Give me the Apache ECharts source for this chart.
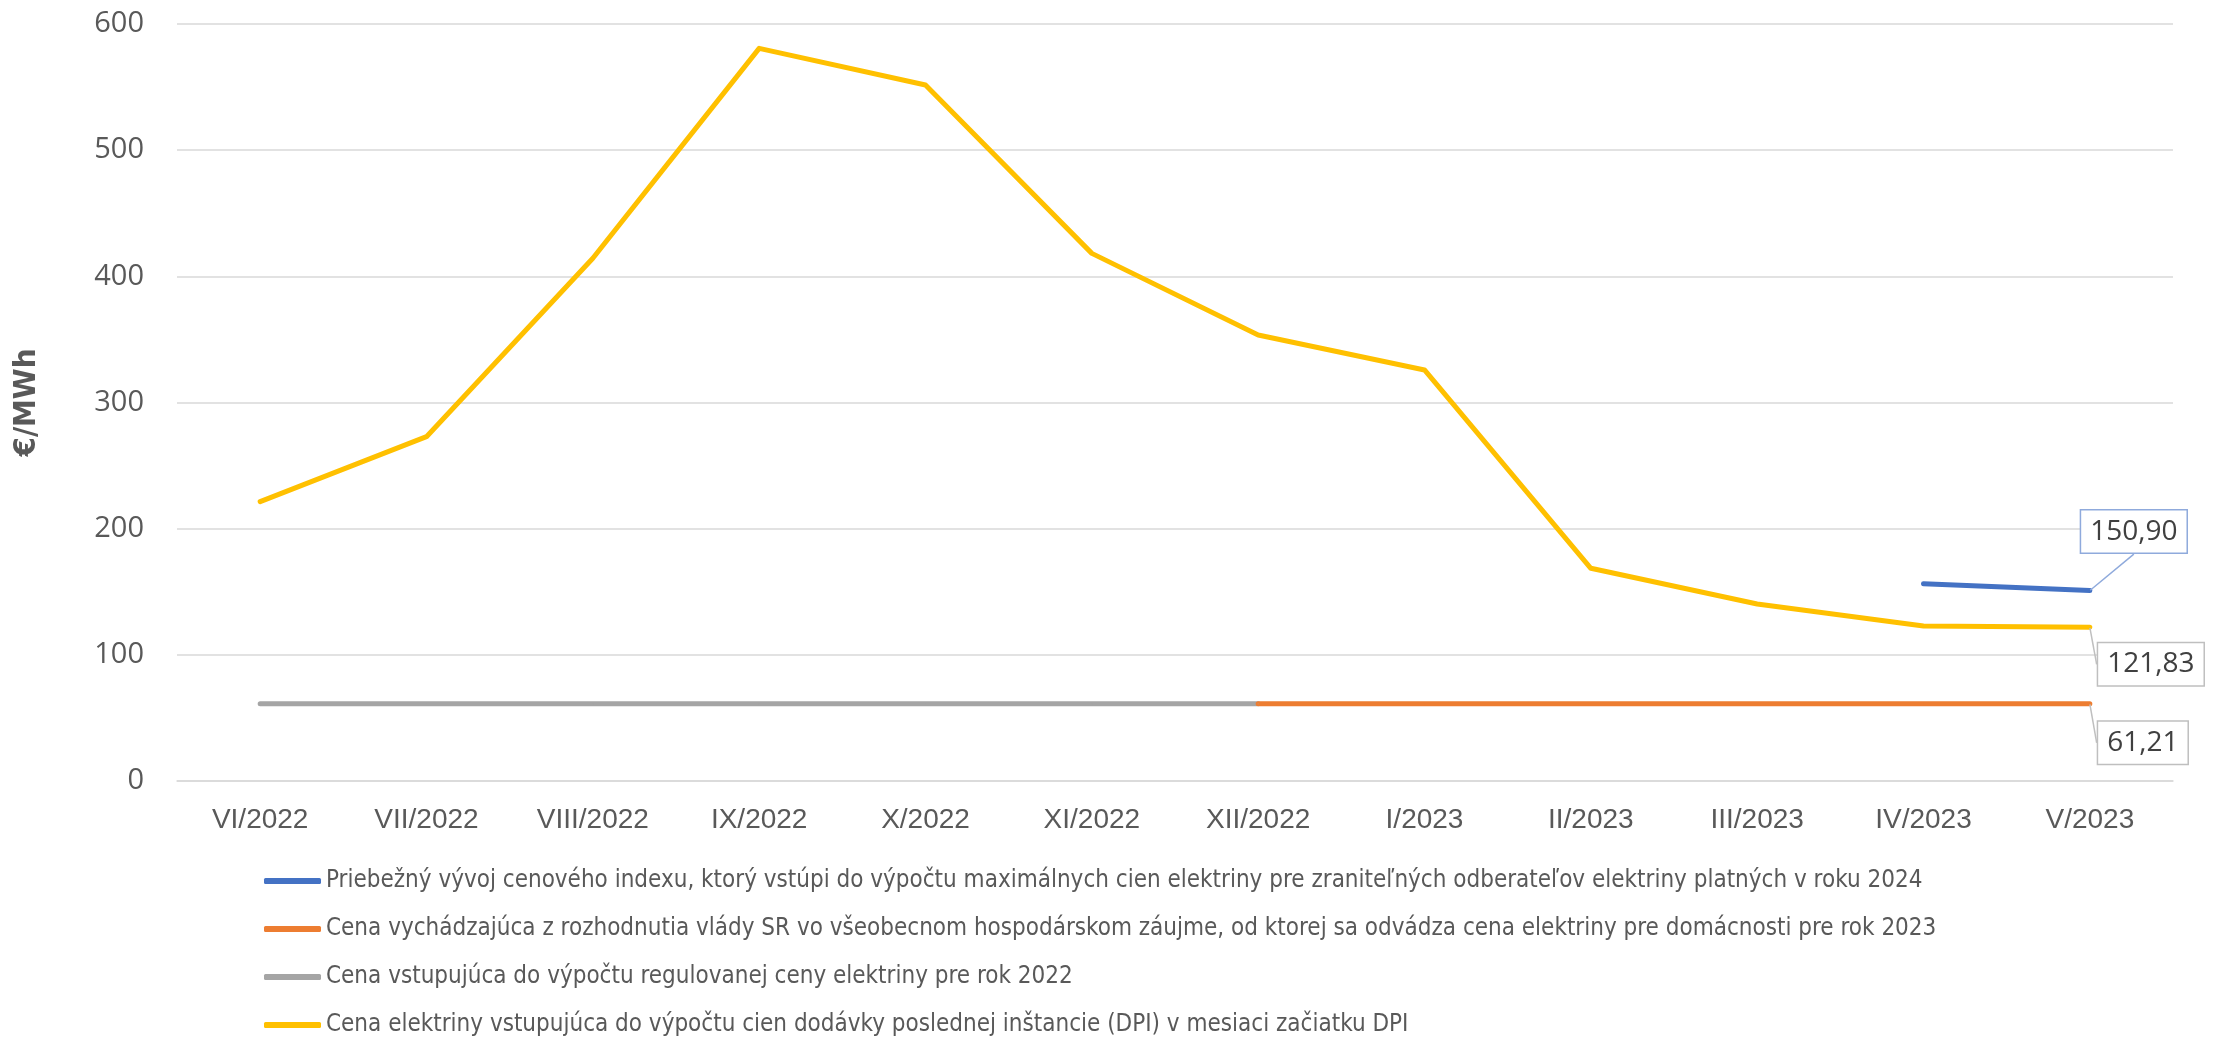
<!DOCTYPE html>
<html>
<head>
<meta charset="utf-8">
<script src="https://cdn.jsdelivr.net/npm/echarts@6/dist/echarts.min.js"></script>
<style>
html,body{margin:0;padding:0;background:#fff;}
#chart{width:2220px;height:1040px;}
</style>
</head>
<body>
<div id="chart"></div>
<script>
const categories = ['VI/2022','VII/2022','VIII/2022','IX/2022','X/2022','XI/2022','XII/2022','I/2023','II/2023','III/2023','IV/2023','V/2023'];
const seriesNames = [
  'Priebežný vývoj cenového indexu, ktorý vstúpi do výpočtu maximálnych cien elektriny pre zraniteľných odberateľov elektriny platných v roku 2024',
  'Cena vychádzajúca z rozhodnutia vlády SR vo všeobecnom hospodárskom záujme, od ktorej sa odvádza cena elektriny pre domácnosti pre rok 2023',
  'Cena vstupujúca do výpočtu regulovanej ceny elektriny pre rok 2022',
  'Cena elektriny vstupujúca do výpočtu cien dodávky poslednej inštancie (DPI) v mesiaci začiatku DPI'
];
const indexValues = [null,null,null,null,null,null,null,null,null,null,156.4,150.90];
const govValues = [null,null,null,null,null,null,61.21,61.21,61.21,61.21,61.21,61.21];
const reg2022Values = [61.21,61.21,61.21,61.21,61.21,61.21,61.21,null,null,null,null,null];
const dpiValues = [221.4,272.9,414.3,580.7,551.6,418.2,353.5,325.8,168.6,140.3,122.9,121.83];
const yTicks = {min:0, max:600, interval:100};
const colors = ['#4472C4','#ED7D31','#A5A5A5','#FFC000'];

const fmt = v => v.toFixed(2).replace('.', ',');

function withLastLabel(values, borderColor){
  return values.map((v,i) => {
    if (i !== values.length - 1 || v === null) return v;
    return {
      value: v,
      label: {
        show: true,
        formatter: p => fmt(p.value),
        position: 'inside',
        fontFamily: 'Open Sans',
        fontSize: 28,
        color: '#404040',
        backgroundColor: '#fff',
        borderColor: borderColor,
        borderWidth: 1.5,
        padding: [8, 9, 6, 9]
      },
      labelLine: { show: true, lineStyle: { color: borderColor, width: 1.5 } }
    };
  });
}

const chart = echarts.init(document.getElementById('chart'));
function mk(name, values, color, labelBorder, dx, dy){
  const s = {
    name: name,
    type: 'line',
    data: labelBorder ? withLastLabel(values, labelBorder) : values,
    symbol: 'circle',
    symbolSize: 1,
    showSymbol: true,
    connectNulls: false,
    lineStyle: { color: color, width: 5, cap: 'round', join: 'round' },
    itemStyle: { color: color },
    label: { show: false },
    emphasis: { disabled: true },
    animation: false
  };
  if (labelBorder) {
    s.labelLayout = function (p) {
      if (p.dataIndex !== values.length - 1) return {};
      return { dx: dx, dy: dy };
    };
    s.labelLine = { show: true, lineStyle: { color: labelBorder, width: 1.5 } };
  }
  return s;
}

chart.setOption({
  animation: false,
  color: colors,
  grid: { left: 177, right: 47, top: 24, bottom: 259, containLabel: false },
  legend: {
    orient: 'vertical',
    left: 264,
    top: 868,
    padding: 0,
    itemWidth: 57,
    itemHeight: 6,
    itemGap: 22,
    icon: 'roundRect',
    textStyle: { fontFamily: 'DejaVu Sans Condensed', fontSize: 24, color: '#595959', lineHeight: 26 },
    data: seriesNames
  },
  xAxis: {
    type: 'category',
    data: categories,
    boundaryGap: true,
    axisLine: { show: true, lineStyle: { color: '#D9D9D9', width: 1.5 } },
    axisTick: { show: false },
    axisLabel: { fontFamily: 'Liberation Sans', fontSize: 28, color: '#595959', margin: 25 }
  },
  yAxis: {
    type: 'value',
    min: yTicks.min, max: yTicks.max, interval: yTicks.interval,
    name: '€/MWh',
    nameLocation: 'middle',
    nameRotate: 90,
    nameGap: 135,
    nameTextStyle: { fontFamily: 'DejaVu Sans Condensed', fontWeight: 'bold', fontSize: 31, color: '#595959' },
    axisLine: { show: false },
    axisTick: { show: false },
    splitLine: { lineStyle: { color: '#D9D9D9', width: 1.5 } },
    axisLabel: { fontFamily: 'Open Sans', fontSize: 29, color: '#595959', margin: 33 }
  },
  series: [
    mk(seriesNames[3], dpiValues, colors[3], '#BFBFBF', 61, 37),
    mk(seriesNames[2], reg2022Values, colors[2], null),
    mk(seriesNames[1], govValues, colors[1], '#BFBFBF', 53, 39),
    mk(seriesNames[0], indexValues, colors[0], '#8FAADC', 44, -59)
  ]
});
</script>
</body>
</html>
